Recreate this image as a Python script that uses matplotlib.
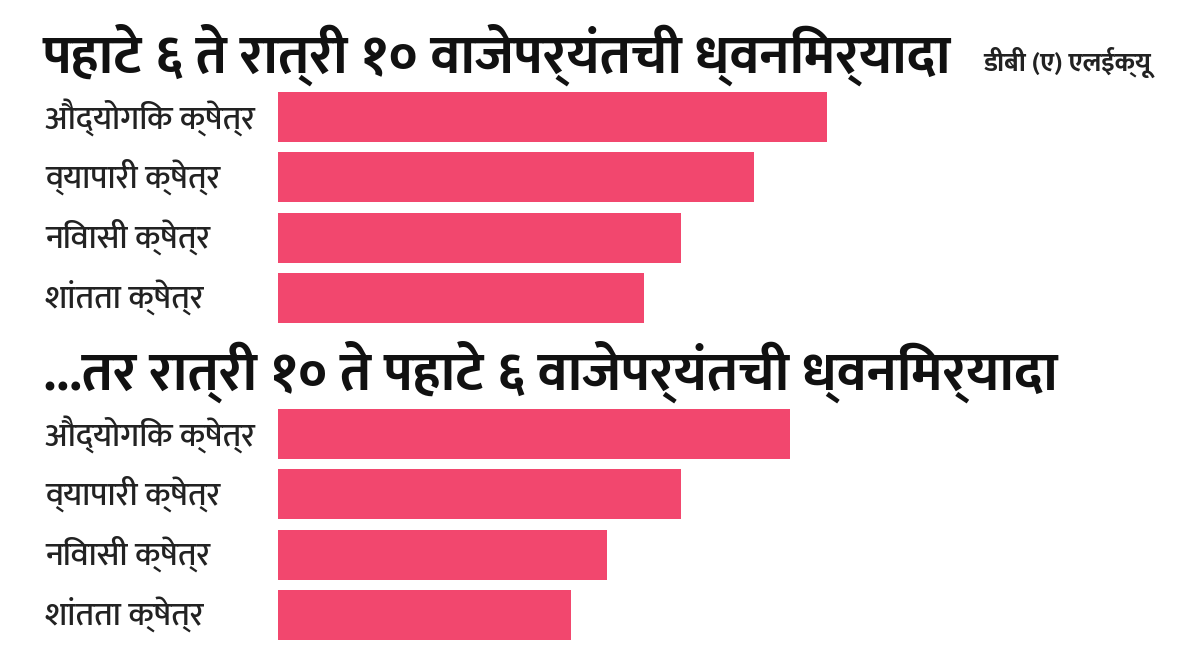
import matplotlib
matplotlib.use("Agg")
import matplotlib.pyplot as plt
from matplotlib.transforms import blended_transform_factory

zones = ["औद्योगिक क्षेत्र", "व्यापारी क्षेत्र", "निवासी क्षेत्र", "शांतता क्षेत्र"]
day_limits = [75, 65, 55, 50]
night_limits = [70, 55, 45, 40]
day_title = "पहाटे ६ ते रात्री १० वाजेपर्यंतची ध्वनिमर्यादा"
night_title = "...तर रात्री १० ते पहाटे ६ वाजेपर्यंतची ध्वनिमर्यादा"
unit_label = "डीबी (ए) एलईक्यू"

BAR_COLOR = "#f2476e"

plt.rcParams["font.family"] = ["Ek Mukta", "DejaVu Sans"]

W, H = 1200, 650
fig = plt.figure(figsize=(W / 100, H / 100), dpi=100)
fig.patch.set_facecolor("white")

px_per_unit = 7.32
x0 = 278
xmax = (W - x0) / px_per_unit


def add_panel(top_px, values):
    ax = fig.add_axes([x0 / W, 1 - (top_px + 241) / H, (W - x0) / W, 241 / H])
    ax.barh(range(len(values)), values, height=0.83, color=BAR_COLOR)
    ax.set_xlim(0, xmax)
    ax.set_ylim(3.5, -0.5)
    ax.axis("off")
    trans = blended_transform_factory(fig.transFigure, ax.transData)
    for i, name in enumerate(zones):
        ax.text(45 / W, i, name, transform=trans, fontsize=24, fontweight=500,
                color="#222222", va="center", ha="left")
    return ax


add_panel(87, day_limits)
add_panel(404, night_limits)

fig.text(43 / W, 1 - 55 / H, day_title, fontsize=39.5, fontweight="bold",
         color="#111111", va="center", ha="left")
fig.text(983 / W, 1 - 62 / H, unit_label, fontsize=19, fontweight="bold",
         color="#222222", va="center", ha="left")
fig.text(43 / W, 1 - 372 / H, night_title, fontsize=39.5, fontweight="bold",
         color="#111111", va="center", ha="left")

fig.savefig("out.png", dpi=100, facecolor="white")
